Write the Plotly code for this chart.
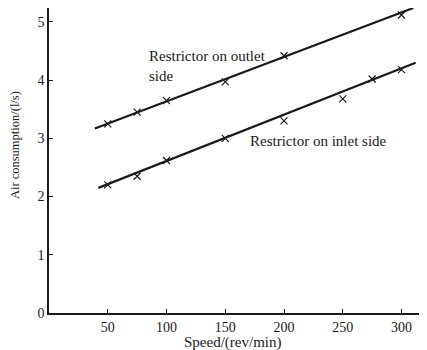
import plotly.graph_objects as go

# Measured points
outlet_speed = [50, 75, 100, 150, 200, 300]
outlet_air = [3.25, 3.45, 3.65, 3.97, 4.42, 5.12]
inlet_speed = [50, 75, 100, 150, 200, 250, 275, 300]
inlet_air = [2.2, 2.35, 2.62, 3.0, 3.3, 3.68, 4.02, 4.18]

# Fitted straight lines (end values)
outlet_fit_speed = [39, 310]
outlet_fit_air = [3.17, 5.24]
inlet_fit_speed = [42, 312]
inlet_fit_air = [2.15, 4.30]

x_ticks = [50, 100, 150, 200, 250, 300]
y_ticks = [0, 1, 2, 3, 4, 5]

FONT = "Liberation Serif"
INK = "#1a1a1a"

fig = go.Figure()
for xs, ys in [(outlet_fit_speed, outlet_fit_air), (inlet_fit_speed, inlet_fit_air)]:
    fig.add_trace(go.Scatter(x=xs, y=ys, mode="lines",
                             line=dict(color=INK, width=2.2), showlegend=False))
for xs, ys in [(outlet_speed, outlet_air), (inlet_speed, inlet_air)]:
    fig.add_trace(go.Scatter(x=xs, y=ys, mode="markers",
                             marker=dict(symbol="x-thin-open", size=7, color=INK,
                                         line=dict(color=INK, width=1.2)),
                             showlegend=False))

ann_font = dict(family=FONT, size=15, color=INK)
fig.add_annotation(x=83, y=4.25, xref="x", yref="y", text="Restrictor on outlet<br>side",
                   showarrow=False, xanchor="left", yanchor="middle", align="left",
                   font=ann_font)
fig.add_annotation(x=169.5, y=2.955, xref="x", yref="y", text="Restrictor on inlet side",
                   showarrow=False, xanchor="left", yanchor="middle", font=ann_font)

# Axis titles
fig.add_annotation(x=0.487, y=-0.098, xref="paper", yref="paper", text="Speed/(rev/min)",
                   showarrow=False, xanchor="center", yanchor="middle",
                   font=dict(family=FONT, size=15, color=INK))
fig.add_annotation(x=-0.09, y=0.551, xref="paper", yref="paper",
                   text="Air consumption/(l/s)", textangle=-90,
                   showarrow=False, xanchor="center", yanchor="middle",
                   font=dict(family=FONT, size=12.5, color=INK))

# The page body adds an 8 px offset, so the figure is sized to the visible area.
fig.update_layout(
    width=419, height=342,
    margin=dict(l=41, r=2, t=0, b=37),
    paper_bgcolor="white", plot_bgcolor="white",
    font=dict(family=FONT, size=13, color=INK),
    xaxis=dict(range=[0, 320], tickvals=x_ticks, ticks="inside", ticklen=4,
               tickcolor=INK, showline=True, linecolor=INK, linewidth=1.5,
               showgrid=False, zeroline=False, automargin=False,
               tickfont=dict(family=FONT, size=14)),
    yaxis=dict(range=[0, 5.24], tickvals=y_ticks, ticks="inside", ticklen=4,
               tickcolor=INK, showline=True, linecolor=INK, linewidth=1.5,
               showgrid=False, zeroline=False, automargin=False,
               tickfont=dict(family=FONT, size=14)),
)

fig.write_html("out.html")
